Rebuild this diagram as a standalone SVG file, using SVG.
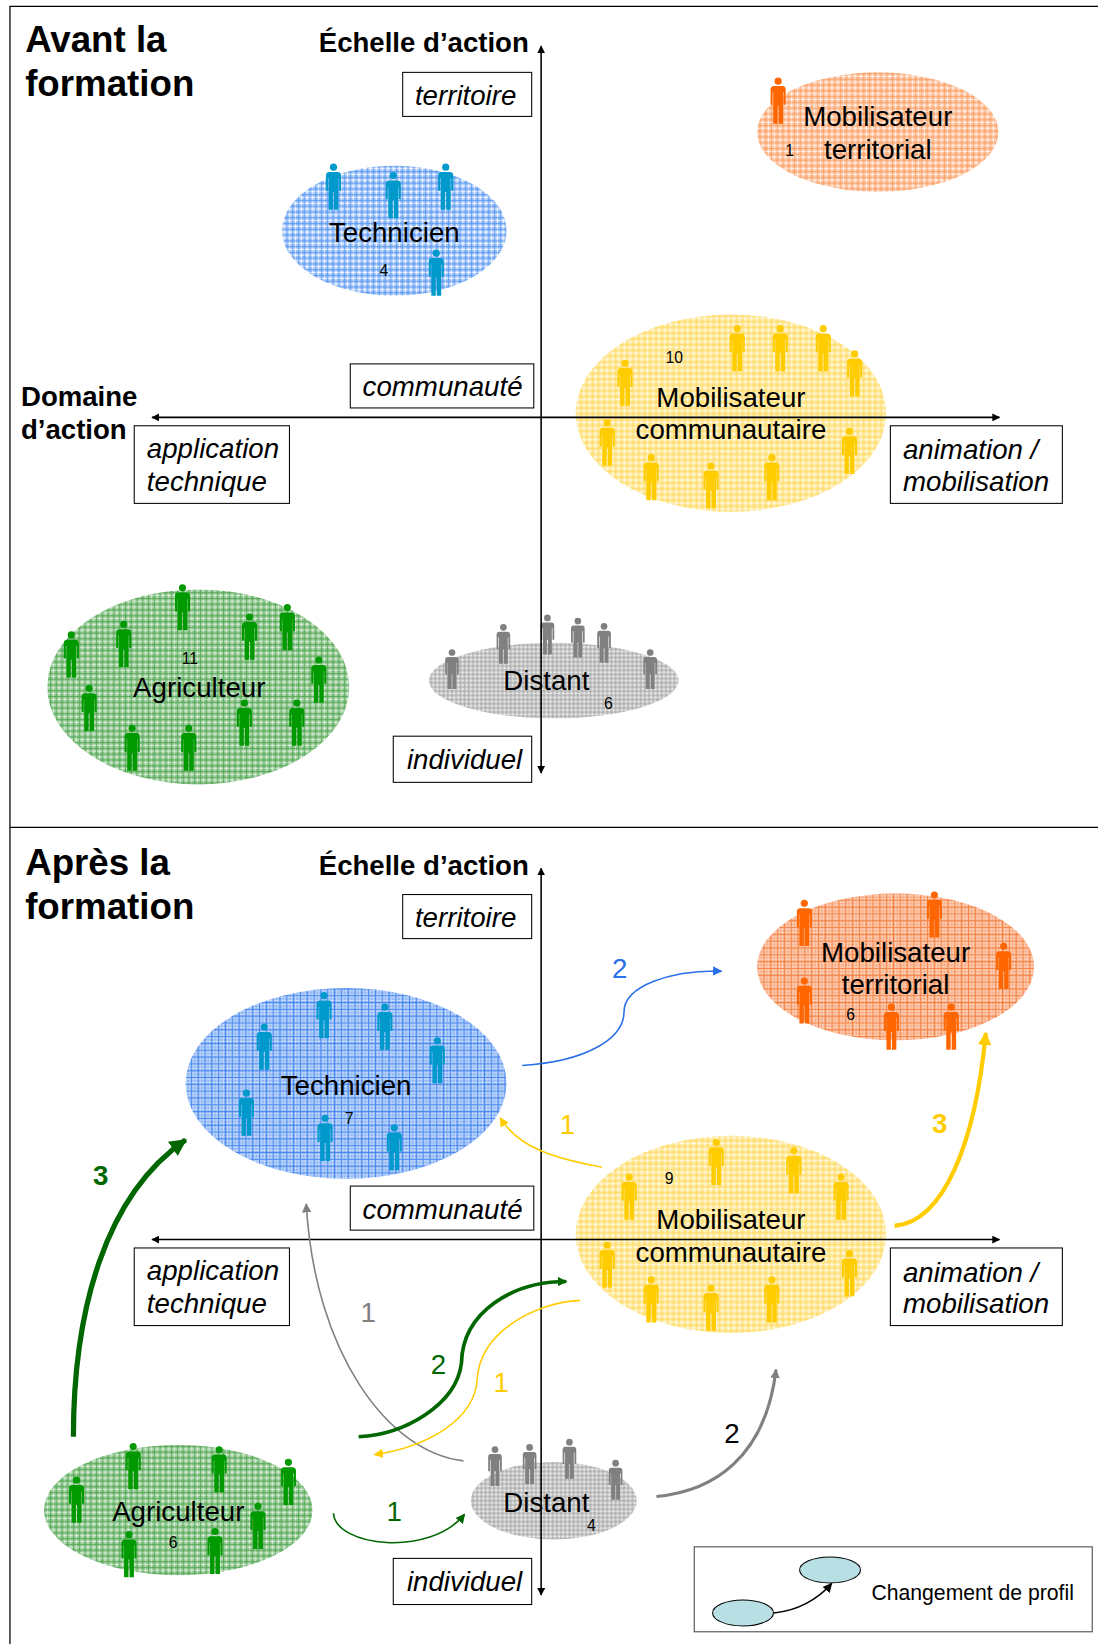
<svg xmlns="http://www.w3.org/2000/svg" width="1098" height="1644" viewBox="0 0 1098 1644">
<style>
text{font-family:"Liberation Sans",Arial,sans-serif;fill:#000}
.t{font-size:35px;font-weight:bold}
.h{font-size:26.300px;font-weight:bold}
.i{font-size:26.400px;font-style:italic}
.n{font-size:26.400px;text-anchor:middle}
.c{font-size:15px;text-anchor:middle}
.m{text-anchor:middle}
.box{fill:#fff;stroke:#000;stroke-width:1}
.ax{fill:none;stroke:#000;stroke-width:1.500;marker-start:url(#mk);marker-end:url(#mk)}
.o{fill:#ff6600}.b{fill:#0099cc}.y{fill:#ffcc00}.g{fill:#009900}.k{fill:#808080}
.a{fill:none}
.lab{font-size:26.400px;text-anchor:middle}
</style>
<defs>
<g id="p"><circle cx="0" cy="3.400" r="3.400"/><path d="M-7.200,11.500Q-7.200,8 -4,8H4Q7.200,8 7.200,11.500V26H5.200V14H4.700V44H0.500V27H-0.500V44H-4.700V14H-5.200V26H-7.200Z"/></g>
<g id="pg"><circle cx="0" cy="3.200" r="3.200"/><path d="M-6.500,10.500Q-6.500,7.500 -4,7.500H4Q6.500,7.500 6.500,10.500V24H4.800V13H4.200V38H0.500V24H-0.500V38H-4.200V13H-4.800V24H-6.500Z"/></g>
<pattern id="pb" width="5.500" height="5.500" patternUnits="userSpaceOnUse"><rect width="5.500" height="5.500" fill="#9cc1f8"/><path d="M0,1.300H5.500M1.300,0V5.500" stroke="#fff" stroke-width="1" opacity=".85"/><path d="M0,4.200H5.500M4.200,0V5.500" stroke="#4d8ff0" stroke-width="1" opacity=".7"/></pattern>
<pattern id="po" width="5.500" height="5.500" patternUnits="userSpaceOnUse"><rect width="5.500" height="5.500" fill="#fdc09a"/><path d="M0,1.300H5.500M1.300,0V5.500" stroke="#fff" stroke-width="1" opacity=".75"/><path d="M0,4.200H5.500M4.200,0V5.500" stroke="#fb9a5c" stroke-width="1" opacity=".7"/></pattern>
<pattern id="pO" width="13" height="13" patternUnits="userSpaceOnUse"><rect width="13" height="13" fill="#f9a478"/><path d="M0,2H13M0,5H13M0,9H13M0,12H13M2,0V13M5,0V13M9,0V13M12,0V13" stroke="#fff" stroke-width="1" opacity=".5"/><path d="M0,.500H13M0,7H13M.500,0V13M7,0V13" stroke="#f47c38" stroke-width="1" opacity=".85"/></pattern>
<pattern id="pB" width="13" height="13" patternUnits="userSpaceOnUse"><rect width="13" height="13" fill="#7fadf5"/><path d="M0,2H13M0,5H13M0,9H13M0,12H13M2,0V13M5,0V13M9,0V13M12,0V13" stroke="#fff" stroke-width="1" opacity=".55"/><path d="M0,.500H13M0,7H13M.500,0V13M7,0V13" stroke="#3b80ee" stroke-width="1" opacity=".85"/></pattern>
<pattern id="py" width="5.500" height="5.500" patternUnits="userSpaceOnUse"><rect width="5.500" height="5.500" fill="#ffe795"/><path d="M0,1.300H5.500M1.300,0V5.500" stroke="#fff" stroke-width="1" opacity=".7"/><path d="M0,4.200H5.500M4.200,0V5.500" stroke="#ffd95e" stroke-width="1" opacity=".7"/></pattern>
<pattern id="pv" width="5.500" height="5.500" patternUnits="userSpaceOnUse"><rect width="5.500" height="5.500" fill="#90c990"/><path d="M0,1.300H5.500M1.300,0V5.500" stroke="#fff" stroke-width="1" opacity=".6"/><path d="M0,4.200H5.500M4.200,0V5.500" stroke="#4ba04b" stroke-width="1" opacity=".75"/></pattern>
<pattern id="pk" width="4" height="4" patternUnits="userSpaceOnUse"><rect width="4" height="4" fill="#c4c4c4"/><path d="M0,1H4M1,0V4" stroke="#fff" stroke-width="1" opacity=".6"/><path d="M0,3H4M3,0V4" stroke="#a8a8a8" stroke-width="1" opacity=".7"/></pattern>
<marker id="mk" viewBox="0 0 10 10" refX="9" refY="5" markerWidth="5" markerHeight="5" orient="auto-start-reverse"><path d="M0,0L10,5L0,10Z" fill="#000"/></marker>
<marker id="mb" viewBox="0 0 10 10" refX="9" refY="5" markerWidth="6" markerHeight="6" orient="auto"><path d="M0,0L10,5L0,10Z" fill="#2a6fe8"/></marker>
<marker id="my" viewBox="0 0 10 10" refX="9" refY="5" markerWidth="6" markerHeight="6" orient="auto"><path d="M0,0L10,5L0,10Z" fill="#ffcc00"/></marker>
<marker id="mY" viewBox="0 0 10 10" refX="9" refY="5" markerWidth="3.200" markerHeight="3.200" orient="auto"><path d="M0,0L10,5L0,10Z" fill="#ffcc00"/></marker>
<marker id="mg" viewBox="0 0 10 10" refX="9" refY="5" markerWidth="6" markerHeight="6" orient="auto"><path d="M0,0L10,5L0,10Z" fill="#006600"/></marker>
<marker id="mG" viewBox="0 0 10 10" refX="9" refY="5" markerWidth="3.300" markerHeight="3.300" orient="auto"><path d="M0,0L10,5L0,10Z" fill="#006600"/></marker>
<marker id="mH" viewBox="0 0 10 10" refX="9" refY="5" markerWidth="2.600" markerHeight="2.600" orient="auto"><path d="M0,0L10,5L0,10Z" fill="#006600"/></marker>
<marker id="mk2" viewBox="0 0 10 10" refX="9" refY="5" markerWidth="6" markerHeight="6" orient="auto"><path d="M0,0L10,5L0,10Z" fill="#808080"/></marker>
<marker id="mK" viewBox="0 0 10 10" refX="9" refY="5" markerWidth="3" markerHeight="3" orient="auto"><path d="M0,0L10,5L0,10Z" fill="#808080"/></marker>
<marker id="ml" viewBox="0 0 10 10" refX="9" refY="5" markerWidth="6" markerHeight="6" orient="auto"><path d="M0,0L10,5L0,10Z" fill="#000"/></marker>
</defs>
<rect width="1098" height="1644" fill="#fff"/>
<g transform="scale(1.04871)">
<g id="frame" fill="none" stroke="#000" stroke-width="1.200"><path d="M1047,6H9.500V1568M9.500,789H1047"/></g>
<g id="node-legend"><rect x="662" y="1475" width="379.500" height="81" fill="#fff" stroke="#444" stroke-width="1"/><ellipse cx="708.500" cy="1538" rx="29" ry="12.400" fill="#b8dfe3" stroke="#000"/><ellipse cx="791.500" cy="1497" rx="29" ry="12.400" fill="#b8dfe3" stroke="#000"/><text x="831" y="1526" style="font-size:20.200px">Changement de profil</text></g>

<g id="node-top-orange"><ellipse cx="837" cy="126" rx="115" ry="57" fill="url(#po)"/><use href="#p" class="o" x="742" y="74"/><text class="n" x="837" y="120">Mobilisateur</text><text class="n" x="837" y="152">territorial</text><text class="c" x="753" y="149">1</text></g>
<g id="node-top-blue"><ellipse cx="376" cy="220" rx="107" ry="62" fill="url(#pb)"/><g class="b"><use href="#p" x="318" y="156"/><use href="#p" x="375" y="164"/><use href="#p" x="425" y="156"/><use href="#p" x="416" y="238"/></g><text class="n" x="376" y="231">Technicien</text><text class="c" x="366" y="263">4</text></g>
<g id="node-top-yellow"><ellipse cx="697" cy="394" rx="148" ry="94" fill="url(#py)"/><g class="y"><use href="#p" x="703" y="310"/><use href="#p" x="744" y="310"/><use href="#p" x="785" y="310"/><use href="#p" x="815" y="334"/><use href="#p" x="596" y="343"/><use href="#p" x="579" y="400"/><use href="#p" x="810" y="408"/><use href="#p" x="621" y="433"/><use href="#p" x="678" y="441"/><use href="#p" x="736" y="433"/></g><text class="n" x="697" y="388">Mobilisateur</text><text class="n" x="697" y="419">communautaire</text><text class="c" x="643" y="346">10</text></g>
<g id="node-top-green"><ellipse cx="189" cy="655" rx="144" ry="93" fill="url(#pv)"/><g class="g"><use href="#p" x="174" y="557"/><use href="#p" x="238" y="585"/><use href="#p" x="274" y="576"/><use href="#p" x="118" y="592"/><use href="#p" x="68" y="602"/><use href="#p" x="304" y="626"/><use href="#p" x="85" y="653"/><use href="#p" x="233" y="667"/><use href="#p" x="283" y="667"/><use href="#p" x="126" y="691"/><use href="#p" x="180" y="691"/></g><text class="n" x="190" y="665">Agriculteur</text><text class="c" x="181" y="633">11</text></g>
<g id="node-top-gray"><ellipse cx="528" cy="649" rx="119" ry="36" fill="url(#pk)"/><g class="k"><use href="#pg" x="522" y="586"/><use href="#pg" x="551" y="589"/><use href="#pg" x="480" y="595"/><use href="#pg" x="576" y="594"/><use href="#pg" x="431" y="619"/><use href="#pg" x="620" y="619"/></g><text class="n" x="521" y="658">Distant</text><text class="c" x="580" y="676">6</text></g>

<g id="node-bot-orange"><ellipse cx="854" cy="922" rx="132" ry="70" fill="url(#pO)"/><g class="o"><use href="#p" x="767" y="858"/><use href="#p" x="891" y="850"/><use href="#p" x="957" y="899"/><use href="#p" x="767" y="932"/><use href="#p" x="850" y="957"/><use href="#p" x="907" y="957"/></g><text class="n" x="854" y="917">Mobilisateur</text><text class="n" x="854" y="948">territorial</text><text class="c" x="811" y="973">6</text></g>
<g id="node-bot-blue"><ellipse cx="330" cy="1033" rx="153" ry="91" fill="url(#pB)"/><g class="b"><use href="#p" x="309" y="946"/><use href="#p" x="367" y="957"/><use href="#p" x="252" y="976"/><use href="#p" x="417" y="989"/><use href="#p" x="235" y="1039"/><use href="#p" x="310" y="1063"/><use href="#p" x="376" y="1072"/></g><text class="n" x="330" y="1044">Technicien</text><text class="c" x="333" y="1072">7</text></g>
<g id="node-bot-yellow"><ellipse cx="697" cy="1177" rx="148" ry="94" fill="url(#py)"/><g class="y"><use href="#p" x="683" y="1086"/><use href="#p" x="757" y="1094"/><use href="#p" x="802" y="1119"/><use href="#p" x="600" y="1119"/><use href="#p" x="579" y="1184"/><use href="#p" x="810" y="1192"/><use href="#p" x="621" y="1217"/><use href="#p" x="678" y="1225"/><use href="#p" x="736" y="1217"/></g><text class="n" x="697" y="1172">Mobilisateur</text><text class="n" x="697" y="1203">communautaire</text><text class="c" x="638" y="1129">9</text></g>
<g id="node-bot-green"><ellipse cx="170" cy="1440" rx="128" ry="62" fill="url(#pv)"/><g class="g"><use href="#p" x="127" y="1376"/><use href="#p" x="209" y="1379"/><use href="#p" x="275" y="1391"/><use href="#p" x="73" y="1408"/><use href="#p" x="246" y="1433"/><use href="#p" x="123" y="1460"/><use href="#p" x="205" y="1457"/></g><text class="n" x="170" y="1450">Agriculteur</text><text class="c" x="165" y="1476">6</text></g>
<g id="node-bot-gray"><ellipse cx="528" cy="1431" rx="79" ry="37" fill="url(#pk)"/><g class="k"><use href="#pg" x="472" y="1379"/><use href="#pg" x="505" y="1377"/><use href="#pg" x="543" y="1372"/><use href="#pg" x="587" y="1392"/></g><text class="n" x="521" y="1442">Distant</text><text class="c" x="564" y="1460">4</text></g>

<g id="connectors">
<path class="ax" d="M516,737V44"/><path class="ax" d="M145,398H953"/>
<path class="ax" d="M516,1521V828"/><path class="ax" d="M145,1182H953"/>
<path class="a" stroke="#2a6fe8" stroke-width="1.500" marker-end="url(#mb)" d="M498,1016C560,1012 595,990 595,965C595,940 640,925 688,926"/>
<path class="a" stroke="#ffcc00" stroke-width="1.500" marker-end="url(#my)" d="M574,1113C530,1105 495,1095 477,1066"/>
<path class="a" stroke="#ffcc00" stroke-width="4" marker-end="url(#mY)" d="M853,1169C900,1165 930,1090 940,985"/>
<path class="a" stroke="#006600" stroke-width="5" marker-end="url(#mG)" d="M70,1370C70,1250 100,1140 177,1087"/>
<path class="a" stroke="#808080" stroke-width="1.500" marker-end="url(#mk2)" d="M442,1393C370,1385 300,1290 292,1148"/>
<path class="a" stroke="#006600" stroke-width="3.500" marker-end="url(#mH)" d="M342,1370C385,1368 435,1340 440,1300C441,1250 490,1222 540,1222"/>
<path class="a" stroke="#ffcc00" stroke-width="1.500" marker-end="url(#my)" d="M553,1240C510,1242 458,1270 455,1315C453,1355 405,1380 357,1387"/>
<path class="a" stroke="#006600" stroke-width="1.500" marker-end="url(#mg)" d="M318,1443C320,1475 410,1485 443,1444"/>
<path class="a" stroke="#808080" stroke-width="3" marker-end="url(#mK)" d="M626,1427C680,1422 730,1390 740,1306"/>
<path class="a" stroke="#000" stroke-width="1.500" marker-end="url(#ml)" d="M738,1538C760,1536 780,1525 793,1510"/>
</g>

<g id="labels">
<text class="t" x="24" y="50">Avant la</text><text class="t" x="24" y="92">formation</text>
<text class="t" x="24" y="834">Après la</text><text class="t" x="24" y="876">formation</text>
<text class="h" x="304" y="50">Échelle d’action</text><text class="h" x="304" y="834">Échelle d’action</text>
<text class="h" x="20" y="387">Domaine</text><text class="h" x="20" y="419">d’action</text>
<text class="lab" style="fill:#2a6fe8" x="591" y="933">2</text>
<text class="lab" style="fill:#ffcc00" x="541" y="1081">1</text>
<text class="lab" style="fill:#ffcc00;font-weight:bold" x="896" y="1080">3</text>
<text class="lab" style="fill:#006600;font-weight:bold" x="96" y="1130">3</text>
<text class="lab" style="fill:#808080" x="351" y="1261">1</text>
<text class="lab" style="fill:#006600" x="418" y="1310">2</text>
<text class="lab" style="fill:#ffcc00" x="478" y="1327">1</text>
<text class="lab" style="fill:#006600" x="376" y="1450">1</text>
<text class="lab" x="698" y="1376">2</text>
</g>

<g id="box-territoire-1"><rect class="box" x="384" y="69" width="123" height="42"/><text class="i m" x="444" y="100">territoire</text></g>
<g id="box-communaute-1"><rect class="box" x="334" y="347" width="175" height="42"/><text class="i m" x="422" y="378">communauté</text></g>
<g id="box-application-1"><rect class="box" x="128" y="406" width="148" height="74"/><text class="i" x="140" y="437">application</text><text class="i" x="140" y="468">technique</text></g>
<g id="box-animation-1"><rect class="box" x="849" y="406" width="164" height="74"/><text class="i" x="861" y="438">animation /</text><text class="i" x="861" y="468">mobilisation</text></g>
<g id="box-individuel-1"><rect class="box" x="375" y="702" width="132" height="44"/><text class="i m" x="443" y="733">individuel</text></g>
<g id="box-territoire-2"><rect class="box" x="384" y="853" width="123" height="42"/><text class="i m" x="444" y="884">territoire</text></g>
<g id="box-communaute-2"><rect class="box" x="334" y="1131" width="175" height="42"/><text class="i m" x="422" y="1162">communauté</text></g>
<g id="box-application-2"><rect class="box" x="128" y="1190" width="148" height="74"/><text class="i" x="140" y="1221">application</text><text class="i" x="140" y="1252">technique</text></g>
<g id="box-animation-2"><rect class="box" x="849" y="1190" width="164" height="74"/><text class="i" x="861" y="1222">animation /</text><text class="i" x="861" y="1252">mobilisation</text></g>
<g id="box-individuel-2"><rect class="box" x="375" y="1486" width="132" height="44"/><text class="i m" x="443" y="1517">individuel</text></g>
</g>
</svg>
